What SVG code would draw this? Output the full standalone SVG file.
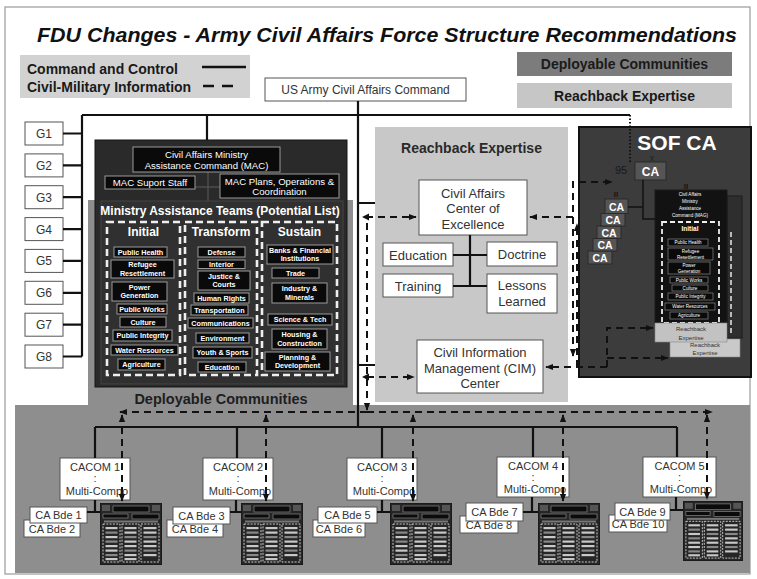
<svg xmlns="http://www.w3.org/2000/svg" width="757" height="579" viewBox="0 0 757 579">
<defs>
<style>
text{font-family:"Liberation Sans",Arial,Helvetica,sans-serif}
.title{font-size:21px;font-weight:bold;font-style:italic;fill:#111}
.leg{font-size:14px;font-weight:bold;fill:#1a1a1a}
.box{fill:#fff;stroke:#555;stroke-width:1}
.bt{font-size:12px;fill:#333;text-anchor:middle}
.bt2{font-size:13px;fill:#333;text-anchor:middle}
.sm{font-size:11px;fill:#333;text-anchor:middle}
.blk{fill:#0a0a0a;stroke:#9a9a9a;stroke-width:1}
.wt{font-size:7.2px;font-weight:bold;fill:#fff;text-anchor:middle}
.wt2{font-size:9.6px;fill:#fff;text-anchor:middle}
.wh{font-size:12px;font-weight:bold;fill:#fff;text-anchor:middle}
.tiny{font-size:4.6px;fill:#fff;text-anchor:middle}
.tinyb{fill:#0a0a0a;stroke:#999;stroke-width:0.6}
.cdash{fill:none;stroke:#eee;stroke-width:2.6;stroke-dasharray:7 4}
.solid{fill:none;stroke:#111;stroke-width:2.2}
.dash{fill:none;stroke:#111;stroke-width:2;stroke-dasharray:7 5}
.ca{fill:#555;stroke:#2a2a2a;stroke-width:1}
.cat{font-size:12px;font-weight:bold;fill:#fff;text-anchor:middle}
.cas{font-size:10.5px;font-weight:bold;fill:#fff;text-anchor:middle}
</style>
<marker id="ah" viewBox="0 0 10 10" refX="9" refY="5" markerWidth="8" markerHeight="8" markerUnits="userSpaceOnUse" orient="auto-start-reverse"><path d="M0,1 L10,5 L0,9 z" fill="#111"/></marker>
<symbol id="mini" viewBox="0 0 62 62" width="62" height="62">
<rect x="0" y="0" width="62" height="62" fill="#262626" stroke="#111"/>
<rect x="2" y="2" width="8" height="6" fill="#555"/>
<rect x="52" y="2" width="8" height="6" fill="#555"/>
<rect x="13" y="3" width="36" height="6" fill="#0b0b0b" stroke="#888" stroke-width="0.7"/>
<rect x="3" y="11" width="25" height="4" fill="#0b0b0b" stroke="#888" stroke-width="0.7"/>
<rect x="32" y="11" width="27" height="5" fill="#0b0b0b" stroke="#888" stroke-width="0.7"/>
<rect x="4" y="17.5" width="54" height="2" fill="#777"/>
<g fill="none" stroke="#ddd" stroke-width="0.9" stroke-dasharray="2 1.3">
<rect x="3" y="21" width="17" height="38"/><rect x="22" y="21" width="17" height="38"/><rect x="41" y="21" width="18" height="38"/>
</g>
<g fill="#c8c8c8">
<rect x="5.5" y="24" width="12" height="2.2"/><rect x="5.5" y="28.5" width="12" height="2.2" fill="#888"/><rect x="5.5" y="33" width="12" height="2.2"/><rect x="5.5" y="37.5" width="12" height="2.2" fill="#888"/><rect x="5.5" y="42" width="12" height="2.2"/><rect x="5.5" y="46.5" width="12" height="2.2"/><rect x="5.5" y="51" width="12" height="2.2" fill="#888"/><rect x="5.5" y="55" width="12" height="2.2"/>
<rect x="24.5" y="24" width="12" height="2.2"/><rect x="24.5" y="28.5" width="12" height="2.2"/><rect x="24.5" y="33" width="12" height="2.2" fill="#888"/><rect x="24.5" y="37.5" width="12" height="2.2"/><rect x="24.5" y="42" width="12" height="2.2"/><rect x="24.5" y="46.5" width="12" height="2.2" fill="#888"/><rect x="24.5" y="51" width="12" height="2.2"/><rect x="24.5" y="55" width="12" height="2.2"/>
<rect x="43.5" y="24" width="13" height="2.2"/><rect x="43.5" y="28.5" width="13" height="2.2"/><rect x="43.5" y="33" width="13" height="2.2" fill="#888"/><rect x="43.5" y="37.5" width="13" height="2.2"/><rect x="43.5" y="42" width="13" height="2.2"/><rect x="43.5" y="46.5" width="13" height="2.2" fill="#888"/><rect x="43.5" y="51" width="13" height="2.2"/>
</g>
</symbol>
</defs>

<rect x="0" y="0" width="757" height="579" fill="#fff"/>
<rect x="5" y="7" width="745" height="567" fill="#fff" stroke="#999" stroke-width="1.2"/>

<text class="title" x="37" y="42" textLength="700" lengthAdjust="spacingAndGlyphs">FDU Changes - Army Civil Affairs Force Structure Recommendations</text>

<g id="legend">
<rect x="20" y="55" width="230" height="43" fill="#d2d2d2"/>
<text class="leg" x="27" y="74">Command and Control</text>
<text class="leg" x="27" y="92">Civil-Military Information</text>
<line x1="202" y1="67" x2="246" y2="67" stroke="#111" stroke-width="2.4"/>
<line x1="203" y1="86" x2="238" y2="86" stroke="#111" stroke-width="2.4" stroke-dasharray="11 8"/>
</g>

<g id="legend-deployable">
<rect x="517" y="52" width="215" height="24" fill="#7c7c7c"/>
<text class="leg" x="624.5" y="69" text-anchor="middle">Deployable Communities</text>
</g>
<g id="legend-reachback">
<rect x="517" y="83" width="215" height="25" fill="#c6c6c6"/>
<text class="leg" x="624.5" y="101" text-anchor="middle">Reachback Expertise</text>
</g>

<g id="usacac">
<rect class="box" x="265" y="78" width="201" height="23"/>
<text class="bt" x="365.5" y="94">US Army Civil Affairs Command</text>
</g>

<g id="g-staff">
<g id="G1"><rect class="box" x="25" y="122" width="38" height="23"/><text class="bt" x="44" y="138">G1</text></g>
<g id="G2"><rect class="box" x="25" y="153.9" width="38" height="23"/><text class="bt" x="44" y="169.9">G2</text></g>
<g id="G3"><rect class="box" x="25" y="185.7" width="38" height="23"/><text class="bt" x="44" y="201.7">G3</text></g>
<g id="G4"><rect class="box" x="25" y="217.6" width="38" height="23"/><text class="bt" x="44" y="233.6">G4</text></g>
<g id="G5"><rect class="box" x="25" y="249.4" width="38" height="23"/><text class="bt" x="44" y="265.4">G5</text></g>
<g id="G6"><rect class="box" x="25" y="281.3" width="38" height="23"/><text class="bt" x="44" y="297.3">G6</text></g>
<g id="G7"><rect class="box" x="25" y="313.2" width="38" height="23"/><text class="bt" x="44" y="329.2">G7</text></g>
<g id="G8"><rect class="box" x="25" y="345" width="38" height="23"/><text class="bt" x="44" y="361">G8</text></g>
</g>

<g id="deployable-panel">
<rect x="15" y="405" width="735" height="168" fill="#8e8e8e"/>
<rect x="88" y="200" width="265" height="206" fill="#8e8e8e"/>
<text x="221" y="404" text-anchor="middle" style="font-size:14.5px;font-weight:bold;fill:#1e1e1e">Deployable Communities</text>
</g>

<g id="mac">
<rect x="95" y="140" width="252" height="247" fill="#2a2a2a" stroke="#151515"/>
<line x1="208" y1="172" x2="208" y2="202" stroke="#555" stroke-width="1.2"/>
<line x1="195" y1="187" x2="220" y2="187" stroke="#555" stroke-width="1.2"/>
<rect class="blk" x="133" y="147" width="147" height="25"/>
<text class="wt2" x="206.5" y="158">Civil Affairs Ministry</text>
<text class="wt2" x="206.5" y="169">Assistance Command (MAC)</text>
<rect class="blk" x="105" y="176" width="90" height="13"/>
<text class="wt2" x="150" y="186">MAC Suport Staff</text>
<rect class="blk" x="220" y="174" width="119" height="24"/>
<text class="wt2" x="279.5" y="184.5">MAC Plans, Operations &amp;</text>
<text class="wt2" x="279.5" y="195">Coordination</text>
<rect x="101" y="201" width="242" height="183" fill="#303030" stroke="#454545"/>
<text x="220" y="215" text-anchor="middle" style="font-size:12px;font-weight:bold;fill:#fff">Ministry Assistance Teams (Potential List)</text>
<rect class="cdash" x="107" y="222" width="73" height="153"/>
<rect class="cdash" x="185" y="222" width="72" height="153"/>
<rect class="cdash" x="262" y="222" width="75" height="153"/>
<text class="wh" x="143.5" y="236">Initial</text>
<text class="wh" x="221" y="236">Transform</text>
<text class="wh" x="299.5" y="236">Sustain</text>

<rect class="blk" x="114" y="247" width="53" height="10"/><text class="wt" x="140.5" y="254.5">Public Health</text>
<rect class="blk" x="111" y="260" width="63" height="18"/><text class="wt" x="142.5" y="267.3">Refugee</text><text class="wt" x="142.5" y="275.5">Resettlement</text>
<rect class="blk" x="112" y="282" width="55" height="19"/><text class="wt" x="139.5" y="289.8">Power</text><text class="wt" x="139.5" y="298">Generation</text>
<rect class="blk" x="117" y="304" width="50" height="10"/><text class="wt" x="142" y="311.5">Public Works</text>
<rect class="blk" x="120" y="317" width="46" height="10"/><text class="wt" x="143" y="324.5">Culture</text>
<rect class="blk" x="113" y="330" width="59" height="11"/><text class="wt" x="142.5" y="338">Public Integrity</text>
<rect class="blk" x="111" y="345" width="67" height="10"/><text class="wt" x="144.5" y="352.5">Water Resources</text>
<rect class="blk" x="118" y="359" width="47" height="11"/><text class="wt" x="141.5" y="367">Agriculture</text>

<rect class="blk" x="198" y="247" width="47" height="10"/><text class="wt" x="221.5" y="254.5">Defense</text>
<rect class="blk" x="198" y="260" width="47" height="8.5"/><text class="wt" x="221.5" y="266.8">Interior</text>
<rect class="blk" x="198" y="271" width="52" height="19"/><text class="wt" x="224" y="278.8">Justice &amp;</text><text class="wt" x="224" y="287">Courts</text>
<rect class="blk" x="194" y="293" width="55" height="10"/><text class="wt" x="221.5" y="300.5">Human Rights</text>
<rect class="blk" x="191" y="305" width="57" height="10"/><text class="wt" x="219.5" y="312.5">Transportation</text>
<rect class="blk" x="188" y="318" width="65" height="10"/><text class="wt" x="220.5" y="325.5">Communications</text>
<rect class="blk" x="196" y="333" width="53" height="10"/><text class="wt" x="222.5" y="340.5">Environment</text>
<rect class="blk" x="193" y="347" width="59" height="11"/><text class="wt" x="222.5" y="355">Youth &amp; Sports</text>
<rect class="blk" x="198" y="362" width="48" height="10"/><text class="wt" x="222" y="369.5">Education</text>

<rect class="blk" x="267" y="245" width="66" height="19"/><text class="wt" x="300" y="252.8" textLength="62" lengthAdjust="spacingAndGlyphs">Banks &amp; Financial</text><text class="wt" x="300" y="261">Institutions</text>
<rect class="blk" x="272" y="268" width="47" height="10"/><text class="wt" x="295.5" y="275.5">Trade</text>
<rect class="blk" x="272" y="283" width="55" height="20"/><text class="wt" x="299.5" y="291.3">Industry &amp;</text><text class="wt" x="299.5" y="299.5">Minerals</text>
<rect class="blk" x="268" y="314" width="64" height="11"/><text class="wt" x="300" y="322">Science &amp; Tech</text>
<rect class="blk" x="272" y="329" width="55" height="20"/><text class="wt" x="299.5" y="337.3">Housing &amp;</text><text class="wt" x="299.5" y="345.5">Construction</text>
<rect class="blk" x="265" y="352" width="65" height="19"/><text class="wt" x="297.5" y="359.8">Planning &amp;</text><text class="wt" x="297.5" y="368">Development</text>
</g>

<g id="reachback">
<rect x="375" y="127" width="193" height="275" fill="#c8c8c8"/>
<text x="471.5" y="153" text-anchor="middle" style="font-size:14px;font-weight:bold;fill:#2a2a2a">Reachback Expertise</text>
<g id="coe"><rect class="box" x="419" y="180" width="108" height="55"/>
<text class="bt2" x="473" y="197.5">Civil Affairs</text><text class="bt2" x="473" y="213">Center of</text><text class="bt2" x="473" y="228.5">Excellence</text></g>
<g id="education"><rect class="box" x="383" y="243" width="70" height="23"/><text class="bt2" x="418" y="259.5">Education</text></g>
<g id="doctrine"><rect class="box" x="487" y="242" width="70" height="24"/><text class="bt2" x="522" y="258.5">Doctrine</text></g>
<g id="training"><rect class="box" x="383" y="274" width="70" height="23"/><text class="bt2" x="418" y="290.5">Training</text></g>
<g id="lessons"><rect class="box" x="487" y="274" width="70" height="39"/><text class="bt2" x="522" y="290">Lessons</text><text class="bt2" x="522" y="305.5">Learned</text></g>
<g id="cim"><rect class="box" x="417" y="340" width="126" height="53"/>
<text class="bt2" x="480" y="357">Civil Information</text><text class="bt2" x="480" y="372.5">Management (CIM)</text><text class="bt2" x="480" y="388">Center</text></g>
</g>

<g id="sof-ca">
<rect x="579" y="127" width="172" height="250" fill="#3c3c3c" stroke="#111" stroke-width="2"/>
<text x="677" y="150" text-anchor="middle" style="font-size:21px;font-weight:bold;fill:#fff">SOF CA</text>
<text x="615" y="174" style="font-size:11px;fill:#181818">95</text>
<text x="652" y="161" text-anchor="middle" style="font-size:6.5px;fill:#181818">X</text>
<rect class="ca" x="635" y="162" width="31" height="18"/><text class="cat" x="650.5" y="176">CA</text>
<text x="616" y="197" text-anchor="middle" style="font-size:8px;font-weight:bold;fill:#151515">II</text>
<text x="686" y="189" text-anchor="middle" style="font-size:8px;font-weight:bold;fill:#151515">II</text>
<rect class="ca" x="588" y="251" width="24" height="13"/><text class="cas" x="600" y="261.5">CA</text>
<rect class="ca" x="593" y="238.5" width="24" height="12.5"/><text class="cas" x="605" y="249">CA</text>
<rect class="ca" x="597" y="226" width="24" height="12.5"/><text class="cas" x="609" y="236.5">CA</text>
<rect class="ca" x="601" y="213.5" width="24" height="12.5"/><text class="cas" x="613" y="224">CA</text>
<rect class="ca" x="605" y="199" width="23" height="14.5"/><text class="cas" x="616.5" y="210.5">CA</text>
<rect x="727" y="196" width="15" height="142" fill="#2e2e2e" stroke="#1a1a1a"/>
<line x1="731" y1="232" x2="731" y2="335" stroke="#ddd" stroke-width="1.6" stroke-dasharray="5 3"/>
<rect x="655" y="190" width="72" height="133" fill="#121212" stroke="#1a1a1a"/>
<text class="tiny" x="690" y="196">Civil Affairs</text>
<text class="tiny" x="690" y="203">Ministry</text>
<text class="tiny" x="690" y="210">Assistance</text>
<text class="tiny" x="690" y="217">Command (MAG)</text>
<rect x="662" y="222" width="57" height="101" fill="none" stroke="#eee" stroke-width="1.8" stroke-dasharray="5 3"/>
<text x="690" y="231" text-anchor="middle" style="font-size:6.5px;font-weight:bold;fill:#fff">Initial</text>
<rect class="tinyb" x="668" y="239" width="40" height="7"/><text class="tiny" x="688" y="244.2">Public Health</text>
<rect class="tinyb" x="668" y="248" width="45" height="12"/><text class="tiny" x="690.5" y="253">Refugee</text><text class="tiny" x="690.5" y="258.5">Resettlement</text>
<rect class="tinyb" x="668" y="262" width="42" height="12"/><text class="tiny" x="689" y="267">Power</text><text class="tiny" x="689" y="272.5">Generation</text>
<rect class="tinyb" x="670" y="277" width="38" height="6"/><text class="tiny" x="689" y="281.6">Public Works</text>
<rect class="tinyb" x="672" y="285" width="36" height="6"/><text class="tiny" x="690" y="289.6">Culture</text>
<rect class="tinyb" x="668" y="293" width="45" height="7"/><text class="tiny" x="690.5" y="298.2">Public Integrity</text>
<rect class="tinyb" x="665" y="303" width="50" height="7"/><text class="tiny" x="690" y="308.2">Water Resources</text>
<rect class="tinyb" x="670" y="312" width="38" height="7"/><text class="tiny" x="689" y="317.2">Agriculture</text>
<rect x="670" y="339" width="70" height="18" fill="#c9c9c9" stroke="#888" stroke-width="0.6"/>
<text x="705" y="347" text-anchor="middle" style="font-size:6px;fill:#333">Reachback</text><text x="705" y="355" text-anchor="middle" style="font-size:6px;fill:#333">Expertise</text>
<rect x="655" y="323" width="72" height="19" fill="#c2c2c2" stroke="#888" stroke-width="0.6"/>
<text x="691" y="331" text-anchor="middle" style="font-size:6px;fill:#333">Reachback</text><text x="691" y="339.5" text-anchor="middle" style="font-size:6px;fill:#333">Expertise</text>
</g>

<g id="cacom1"><rect class="box" x="60" y="458" width="70" height="42"/><text class="sm" x="95" y="471">CACOM 1</text><text class="sm" x="95" y="482">:</text><text class="sm" x="97" y="495">Multi-Compo</text></g>
<g id="cacom2"><rect class="box" x="203" y="458" width="70" height="42"/><text class="sm" x="238" y="471">CACOM 2</text><text class="sm" x="238" y="482">:</text><text class="sm" x="240" y="495">Multi-Compo</text></g>
<g id="cacom3"><rect class="box" x="347" y="458" width="70" height="42"/><text class="sm" x="382" y="471">CACOM 3</text><text class="sm" x="382" y="482">:</text><text class="sm" x="384" y="495">Multi-Compo</text></g>
<g id="cacom4"><rect class="box" x="497" y="457" width="72" height="40"/><text class="sm" x="533" y="470">CACOM 4</text><text class="sm" x="533" y="481">:</text><text class="sm" x="535" y="493">Multi-Compo</text></g>
<g id="cacom5"><rect class="box" x="643" y="457" width="73" height="40"/><text class="sm" x="679.5" y="470">CACOM 5</text><text class="sm" x="679.5" y="481">:</text><text class="sm" x="681" y="493">Multi-Compo</text></g>

<g id="bde1-2"><rect class="box" x="24" y="520" width="56" height="17"/><text class="sm" x="52" y="532.5">CA Bde 2</text><rect class="box" x="30" y="507" width="57" height="16"/><text class="sm" x="58.5" y="519">CA Bde 1</text></g>
<g id="bde3-4"><rect class="box" x="167" y="520" width="56" height="17"/><text class="sm" x="195" y="532.5">CA Bde 4</text><rect class="box" x="173" y="507" width="57" height="17"/><text class="sm" x="201.5" y="519.5">CA Bde 3</text></g>
<g id="bde5-6"><rect class="box" x="313" y="520" width="52" height="17"/><text class="sm" x="339" y="532.5">CA Bde 6</text><rect class="box" x="318" y="507" width="59" height="16"/><text class="sm" x="347.5" y="519">CA Bde 5</text></g>
<g id="bde7-8"><rect class="box" x="460" y="516" width="58" height="17"/><text class="sm" x="489" y="528.5">CA Bde 8</text><rect class="box" x="466" y="503" width="57" height="18"/><text class="sm" x="494.5" y="516">CA Bde 7</text></g>
<g id="bde9-10"><rect class="box" x="609" y="515" width="58" height="17"/><text class="sm" x="638" y="527.5">CA Bde 10</text><rect class="box" x="615" y="503" width="55" height="17"/><text class="sm" x="642.5" y="515.5">CA Bde 9</text></g>

<use id="mini1" href="#mini" x="100" y="503" width="62" height="62"/>
<use id="mini2" href="#mini" x="241" y="503" width="62" height="62"/>
<use id="mini3" href="#mini" x="390" y="503" width="62" height="62"/>
<use id="mini4" href="#mini" x="538" y="503" width="62" height="62"/>
<use id="mini5" href="#mini" x="683" y="501" width="60" height="60"/>

<g id="connectors">
<path class="solid" d="M358,101 V427"/>
<path class="solid" d="M82,115 H630"/>
<path class="solid" d="M82,115 V356.5"/>
<path class="solid" d="M63,133.5 H82 M63,165.4 H82 M63,197.2 H82 M63,229.1 H82 M63,260.9 H82 M63,292.8 H82 M63,324.7 H82 M63,356.5 H82"/>
<path class="solid" d="M207,115 V140"/>
<path class="solid" d="M358,203 H375 M358,365 H375"/>
<path class="solid" d="M470,235 V286 M453,255 H487 M453,286 H487"/>
<path d="M630,115 V162" fill="none" stroke="#111" stroke-width="2" stroke-dasharray="1.5 2"/>
<path fill="none" stroke="#111" stroke-width="1.5" d="M643,180 V219 H655 M628,207 H643"/>
<path class="solid" d="M95,427 H677"/>
<path class="solid" d="M95,427 V458 M95,500 V512 M87,512 H100"/>
<path class="solid" d="M237,427 V458 M236,500 V512 M230,512 H241"/>
<path class="solid" d="M382,427 V458 M382,500 V512 M377,512 H390"/>
<path class="solid" d="M533,427 V457 M532,497 V512 M523,512 H538"/>
<path class="solid" d="M677,427 V457 M676,497 V510 M670,510 H683"/>

<path class="dash" d="M367,410 V217 H416" marker-start="url(#ah)" marker-end="url(#ah)"/>
<path d="M362,217 L369,213.5 L369,220.5 z" fill="#111"/>
<path class="dash" d="M367,377 H414" marker-end="url(#ah)"/>
<path d="M362,377 L369,373.5 L369,380.5 z" fill="#111"/>
<path class="dash" d="M573,217 H530" marker-end="url(#ah)"/>
<path class="dash" d="M573,356 V182 H612" marker-start="url(#ah)" marker-end="url(#ah)"/>
<path class="dash" d="M577,367 V224" marker-end="url(#ah)"/>
<path class="dash" d="M607,367 H546" marker-end="url(#ah)"/>
<path class="dash" d="M607,367 V328 H653" marker-end="url(#ah)"/>
<path class="dash" d="M607,358 H668" marker-end="url(#ah)"/>
<path class="dash" d="M367,412 H120" marker-end="url(#ah)"/>
<path class="dash" d="M367,412 H712" marker-end="url(#ah)"/>
<path class="dash" d="M122,415 V501" marker-start="url(#ah)" marker-end="url(#ah)"/>
<path class="dash" d="M266,415 V501" marker-start="url(#ah)" marker-end="url(#ah)"/>
<path class="dash" d="M413,415 V501" marker-start="url(#ah)" marker-end="url(#ah)"/>
<path class="dash" d="M563,415 V501" marker-start="url(#ah)" marker-end="url(#ah)"/>
<path class="dash" d="M707,415 V499" marker-start="url(#ah)" marker-end="url(#ah)"/>
</g>
</svg>
